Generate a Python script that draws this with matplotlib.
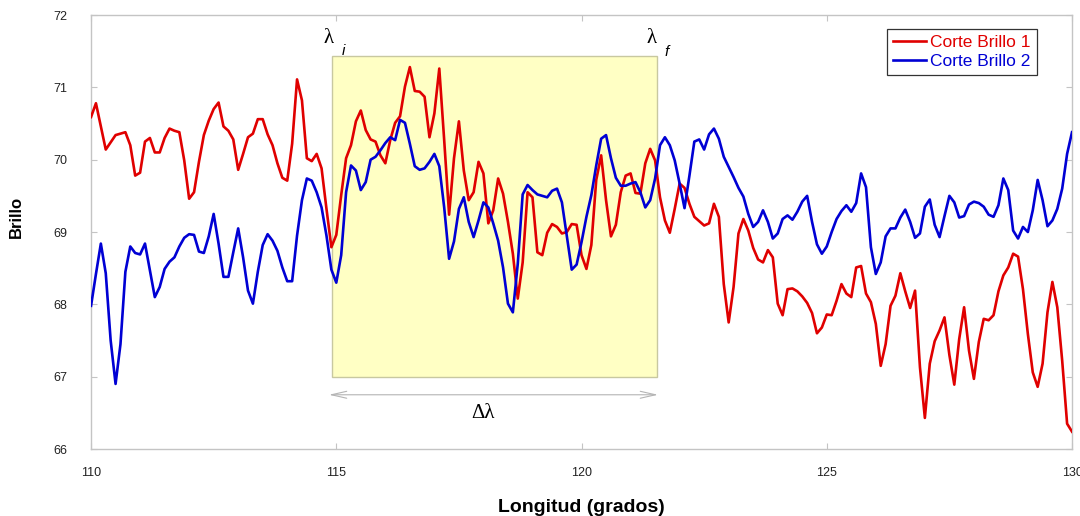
import numpy as np
import matplotlib
matplotlib.use("Agg")
import matplotlib.pyplot as plt
from matplotlib.patches import Rectangle

plt.rcParams['font.family'] = ['Liberation Sans', 'DejaVu Sans']

# longitude grid (0.1 deg steps) and the two brightness cuts
longitud = np.round(np.arange(1100, 1301) / 10.0, 1)

brillo_1 = [
    70.59, 70.78, 70.46, 70.14, 70.24, 70.34, 70.36, 70.38, 70.20, 69.78,
    69.82, 70.25, 70.30, 70.10, 70.10, 70.30, 70.43, 70.40, 70.38, 69.99,
    69.46, 69.55, 69.97, 70.34, 70.54, 70.70, 70.79, 70.46, 70.40, 70.28,
    69.86, 70.08, 70.31, 70.36, 70.56, 70.56, 70.35, 70.20, 69.95, 69.75,
    69.71, 70.22, 71.11, 70.82, 70.02, 69.98, 70.08, 69.88, 69.32, 68.79,
    68.96, 69.51, 70.02, 70.20, 70.53, 70.68, 70.41, 70.28, 70.25, 70.06,
    69.95, 70.27, 70.51, 70.60, 71.01, 71.28, 70.95, 70.94, 70.87, 70.31,
    70.64, 71.26, 70.27, 69.24, 70.02, 70.53, 69.85, 69.44, 69.55, 69.97,
    69.81, 69.12, 69.30, 69.74, 69.53, 69.14, 68.70, 68.08, 68.58, 69.55,
    69.48, 68.72, 68.68, 68.99, 69.11, 69.07, 68.98, 69.00, 69.11, 69.10,
    68.68, 68.49, 68.82, 69.72, 70.06, 69.44, 68.94, 69.10, 69.55, 69.78,
    69.81, 69.54, 69.53, 69.95, 70.15, 69.99, 69.48, 69.16, 68.99, 69.32,
    69.67, 69.61, 69.39, 69.21, 69.15, 69.09, 69.12, 69.39, 69.21, 68.28,
    67.75, 68.24, 68.98, 69.18, 69.02, 68.78, 68.62, 68.58, 68.75, 68.65,
    68.01, 67.85, 68.21, 68.22, 68.18, 68.11, 68.02, 67.88, 67.60, 67.68,
    67.86, 67.85, 68.05, 68.28, 68.15, 68.10, 68.51, 68.53, 68.15, 68.03,
    67.73, 67.15, 67.45, 67.98, 68.12, 68.43, 68.18, 67.95, 68.19, 67.13,
    66.43, 67.18, 67.49, 67.64, 67.82, 67.30, 66.89, 67.52, 67.96, 67.36,
    66.97, 67.48, 67.80, 67.78, 67.85, 68.18, 68.40, 68.51, 68.70, 68.66,
    68.21, 67.59, 67.06, 66.86, 67.18, 67.89, 68.31, 67.96, 67.22, 66.35,
    66.24,
]

brillo_2 = [
    67.98, 68.42, 68.84, 68.43, 67.50, 66.90, 67.45, 68.45, 68.80, 68.71,
    68.69, 68.84, 68.47, 68.10, 68.24, 68.49, 68.59, 68.65, 68.80, 68.92,
    68.97, 68.96, 68.73, 68.71, 68.94, 69.25, 68.84, 68.38, 68.38, 68.72,
    69.05, 68.65, 68.19, 68.01, 68.45, 68.82, 68.97, 68.88, 68.74, 68.51,
    68.32, 68.32, 68.95, 69.44, 69.74, 69.71, 69.55, 69.34, 68.95, 68.48,
    68.30, 68.68, 69.55, 69.92, 69.85, 69.58, 69.69, 70.00, 70.04, 70.13,
    70.23, 70.31, 70.27, 70.55, 70.51, 70.22, 69.91, 69.86, 69.88, 69.97,
    70.08, 69.91, 69.34, 68.63, 68.87, 69.32, 69.48, 69.14, 68.93, 69.16,
    69.41, 69.34, 69.12, 68.88, 68.51, 68.01, 67.89, 68.56, 69.52, 69.65,
    69.58, 69.52, 69.50, 69.48, 69.57, 69.60, 69.41, 68.94, 68.48, 68.55,
    68.86, 69.21, 69.51, 69.92, 70.29, 70.34, 70.02, 69.75, 69.64, 69.64,
    69.67, 69.69, 69.55, 69.34, 69.44, 69.74, 70.20, 70.31, 70.20, 69.99,
    69.67, 69.33, 69.78, 70.25, 70.28, 70.14, 70.35, 70.43, 70.29, 70.04,
    69.90, 69.76, 69.61, 69.49, 69.25, 69.07, 69.14, 69.30, 69.14, 68.91,
    68.98, 69.18, 69.23, 69.17, 69.28, 69.42, 69.50, 69.14, 68.83, 68.70,
    68.80, 69.00, 69.18, 69.29, 69.37, 69.28, 69.40, 69.81, 69.62, 68.79,
    68.42, 68.58, 68.94, 69.05, 69.05, 69.20, 69.31, 69.14, 68.92, 68.98,
    69.35, 69.45, 69.10, 68.93, 69.22, 69.50, 69.41, 69.20, 69.22, 69.38,
    69.42, 69.40, 69.35, 69.24, 69.21, 69.37, 69.74, 69.58, 69.02, 68.91,
    69.07, 69.00, 69.30, 69.72, 69.44, 69.08, 69.16, 69.32, 69.60, 70.08,
    70.38,
]

x_ticks = [110, 115, 120, 125, 130]
y_ticks = [66, 67, 68, 69, 70, 71, 72]
lam_i, lam_f = 114.92, 121.53

fig = plt.figure(figsize=(10.8, 5.16), dpi=100)
ax = fig.add_axes([0.0843, 0.1298, 0.9083, 0.8411])

grey = '#c4c4c4'

# shaded window between lambda_i and lambda_f
ax.add_patch(Rectangle((lam_i, 67.0), lam_f - lam_i, 71.43 - 67.0,
                       facecolor='#ffffc4', edgecolor='#c8c8a0', lw=1.0, zorder=1))

ax.plot(longitud, brillo_1, color='#e00000', lw=1.9, label='Corte Brillo 1', zorder=3)
ax.plot(longitud, brillo_2, color='#0000d4', lw=1.9, label='Corte Brillo 2', zorder=3)

ax.set_xlim(110, 130)
ax.set_ylim(66, 72)
ax.set_xticks(x_ticks)
ax.set_yticks(y_ticks)
ax.tick_params(direction='in', length=4.5, width=0.8, color=grey,
               top=True, right=True, labelsize=9, labelcolor='#222222')
ax.tick_params(axis='x', pad=13)
ax.tick_params(axis='y', pad=17)
for s in ax.spines.values():
    s.set_color(grey)
    s.set_linewidth(1.0)

ax.set_xlabel('Longitud (grados)', fontsize=14, fontweight='bold', labelpad=14)
ax.set_ylabel('Brillo', fontsize=12, fontweight='bold')
ax.yaxis.set_label_coords(-0.068, 0.535)

# delta lambda arrow and labels
ax.annotate('', xy=(lam_f + 0.03, 66.75), xytext=(lam_i - 0.07, 66.75),
            arrowprops=dict(arrowstyle='<->,head_length=1.1,head_width=0.25',
                            color='#b4b4b4', lw=0.8, shrinkA=0, shrinkB=0))
serif = ['Liberation Serif', 'DejaVu Serif']
ax.text(118.0, 66.49, '\u0394\u03bb', family=serif, fontsize=15, ha='center', va='center')
ax.text(114.85, 71.68, '\u03bb', family=serif, fontsize=15, ha='center', va='center')
ax.text(115.15, 71.50, 'i', fontsize=11, style='italic', ha='center', va='center')
ax.text(121.43, 71.68, '\u03bb', family=serif, fontsize=15, ha='center', va='center')
ax.text(121.73, 71.49, 'f', fontsize=11, style='italic', ha='center', va='center')

leg = ax.legend(loc='upper right', bbox_to_anchor=(0.9643, 0.9677), borderaxespad=0,
                fontsize=12.5, handlelength=1.9, handletextpad=0.25, labelspacing=0.2,
                borderpad=0.35, fancybox=False, framealpha=1, edgecolor='#333333',
                labelcolor='linecolor')
leg.get_frame().set_linewidth(0.9)

fig.savefig('out.png', dpi=100)
